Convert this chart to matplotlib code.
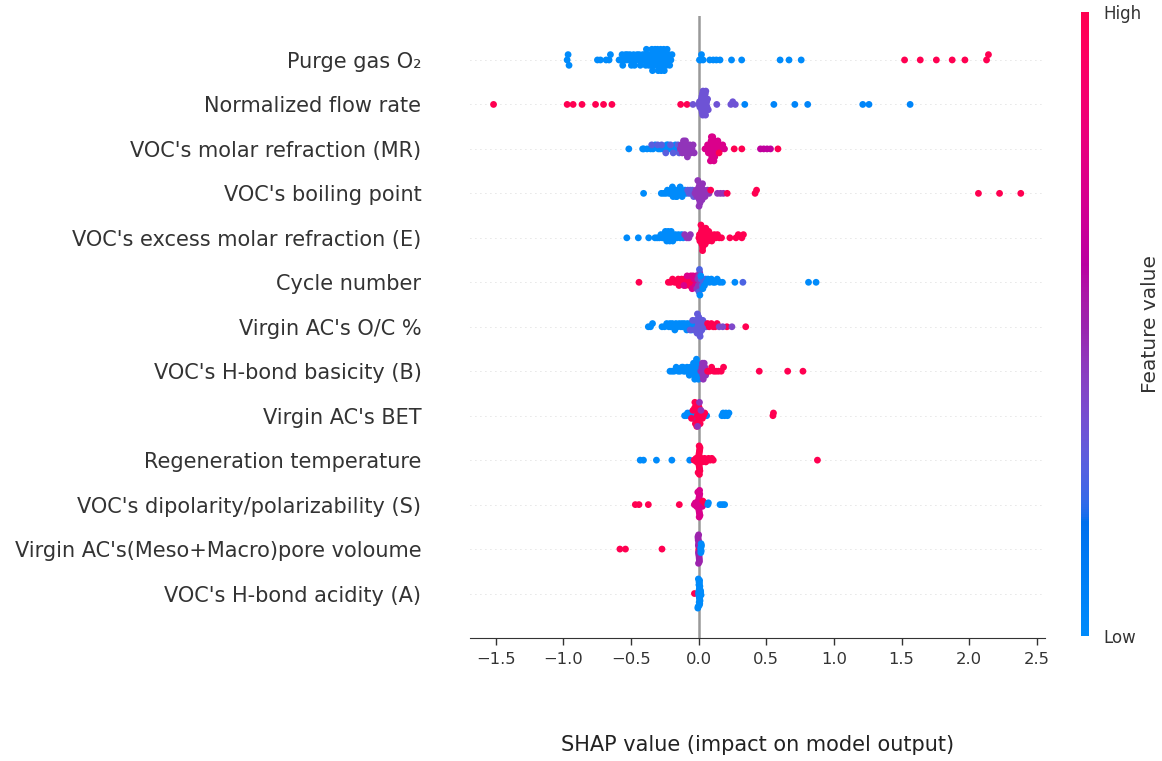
import numpy as np
import matplotlib
matplotlib.use("Agg")
import matplotlib.pyplot as plt
from matplotlib.colors import LinearSegmentedColormap
import matplotlib.cm as cm

# ---------------- data ----------------
features = [
    "Purge gas O\u2082",
    "Normalized flow rate",
    "VOC's molar refraction (MR)",
    "VOC's boiling point",
    "VOC's excess molar refraction (E)",
    "Cycle number",
    "Virgin AC's O/C %",
    "VOC's H-bond basicity (B)",
    "Virgin AC's BET",
    "Regeneration temperature",
    "VOC's dipolarity/polarizability (S)",
    "Virgin AC's(Meso+Macro)pore voloume",
    "VOC's H-bond acidity (A)",
]

xticks = [-1.5, -1.0, -0.5, 0.0, 0.5, 1.0, 1.5, 2.0, 2.5]

# each row: list of (normalized feature value, [SHAP values])
purge_o2 = [
    (0.0, [-0.972, -0.965, -0.958, -0.748, -0.726, -0.684, -0.662, -0.652,
           -0.588, -0.575, -0.566, -0.561, -0.548, -0.541, -0.532, -0.527, -0.514, -0.508,
           -0.497, -0.486, -0.481, -0.474, -0.463, -0.455, -0.447, -0.439, -0.431, -0.424,
           -0.413, -0.407, -0.398, -0.391, -0.386, -0.379, -0.372, -0.368, -0.361, -0.357,
           -0.352, -0.346, -0.341, -0.336, -0.331, -0.327, -0.322, -0.318, -0.313, -0.309,
           -0.304, -0.299, -0.295, -0.291, -0.286, -0.281, -0.277, -0.272, -0.268, -0.263,
           -0.258, -0.254, -0.249, -0.244, -0.239, -0.233, -0.228, -0.221, -0.214, -0.205,
           -0.197, 0.006, 0.014, 0.021, 0.033, 0.082, 0.108, 0.131, 0.158, 0.243, 0.318,
           0.602, 0.668, 0.758]),
    (1.0, [1.522, 1.638, 1.757, 1.874, 1.968, 2.128, 2.142]),
]

flow_rate = [
    (1.0, [-1.516, -0.972, -0.928, -0.862, -0.762, -0.703, -0.641, -0.133, -0.086]),
    (0.33, [-0.042, 0.002, 0.006, 0.009, 0.013, 0.016, 0.018, 0.020, 0.022, 0.024, 0.026,
            0.028, 0.030, 0.032, 0.035, 0.037, 0.039, 0.041, 0.043, 0.045, 0.047, 0.049,
            0.051, 0.053, 0.056, 0.059, 0.062, 0.066, 0.071, 0.134, 0.238, 0.252, 0.271]),
    (0.04, [0.341, 0.556, 0.711, 0.806, 1.213, 1.259, 1.563]),
]

voc_mr = [
    (0.0, [-0.516, -0.414, -0.406, -0.381, -0.355, -0.337, -0.321, -0.298, -0.284, -0.266,
           -0.251, -0.236, -0.218, -0.201, -0.181, -0.164, -0.172, -0.226]),
    (0.28, [-0.347, -0.303, -0.274, -0.243, -0.208, -0.188, -0.153, -0.144]),
    (0.45, [-0.136, -0.129, -0.121, -0.115, -0.107, -0.101, -0.094, -0.088, -0.081, -0.074,
            -0.066, -0.058, -0.049, -0.041, -0.033, -0.112, -0.097, -0.083]),
    (0.72, [0.047, 0.058, 0.066, 0.072, 0.078, 0.083, 0.088, 0.092, 0.097, 0.101, 0.106,
            0.110, 0.115, 0.119, 0.124, 0.129, 0.135, 0.142, 0.149, 0.157, 0.166, 0.178,
            0.191, 0.094, 0.104, 0.113, 0.087]),
    (1.0, [0.151, 0.263, 0.319, 0.586]),
    (0.62, [0.457, 0.481, 0.506, 0.531]),
]

voc_bp = [
    (0.0, [-0.407, -0.276, -0.259, -0.242, -0.231, -0.219, -0.208, -0.199, -0.189, -0.181,
           -0.173, -0.166, -0.158, -0.149, -0.141, -0.131, -0.122, -0.112, -0.101, -0.092,
           -0.194, -0.162, -0.137]),
    (0.3, [-0.081, -0.071, -0.062, -0.054, -0.046, -0.037]),
    (0.45, [-0.027, -0.019, -0.013, -0.008, -0.004, -0.001, 0.002, 0.005, 0.007, 0.010,
            0.012, 0.015, 0.018, 0.021, 0.025, 0.029, 0.034, 0.040, 0.047, 0.056, 0.066,
            0.077, 0.139, 0.161, 0.183, -0.006, 0.003]),
    (1.0, [0.089, 0.211, 0.417, 0.428, 2.068, 2.224, 2.381]),
]

voc_e = [
    (0.0, [-0.531, -0.446, -0.369, -0.323, -0.307, -0.291, -0.279, -0.268, -0.259, -0.251,
           -0.243, -0.236, -0.228, -0.221, -0.214, -0.207, -0.199, -0.191, -0.182, -0.172,
           -0.161, -0.149, -0.137, -0.125, -0.114, -0.246, -0.225, -0.203]),
    (0.45, [-0.103, -0.087, -0.072, -0.061]),
    (1.0, [0.002, 0.006, 0.009, 0.012, 0.015, 0.018, 0.021, 0.024, 0.027, 0.030, 0.033,
           0.036, 0.040, 0.044, 0.048, 0.053, 0.058, 0.063, 0.069, 0.075, 0.082, 0.089,
           0.097, 0.106, 0.116, 0.127, 0.139, 0.153, 0.169, 0.231, 0.276, 0.293, 0.319,
           0.331, 0.017, 0.029]),
]

cycle_number = [
    (1.0, [-0.441, -0.224, -0.207, -0.193, -0.178, -0.164, -0.151, -0.139, -0.126, -0.114,
           -0.103, -0.092, -0.081, -0.071, -0.062, -0.053, -0.044, -0.036, -0.028, -0.145,
           -0.098, -0.067]),
    (0.72, [-0.109, -0.085, -0.058, -0.041, -0.032, -0.024, -0.017, -0.011, -0.048]),
    (0.45, [-0.006, -0.002, 0.001, 0.004, 0.008, 0.012, -0.014]),
    (0.25, [0.003, 0.006, 0.018, 0.026, 0.035, 0.052, 0.327]),
    (0.0, [0.016, 0.031, 0.043, 0.058, 0.069, 0.081, 0.094, 0.108, 0.121, 0.137, 0.156,
           0.176, 0.268, 0.812, 0.868, 0.009]),
]

ac_oc = [
    (0.0, [-0.372, -0.356, -0.341, -0.271, -0.252, -0.236, -0.221, -0.207, -0.194, -0.181,
           -0.168, -0.156, -0.144, -0.132, -0.119, -0.106, -0.094, -0.083, -0.072, -0.061,
           -0.049, -0.037, -0.026, -0.015, -0.212, -0.176, -0.124, -0.088, -0.052]),
    (0.3, [-0.063, -0.044, -0.031, -0.021, -0.012, -0.006, -0.002, 0.002, 0.005, 0.009,
           0.013, 0.018, 0.024, 0.031, 0.039, 0.048, 0.057, 0.001, 0.011, -0.009]),
    (1.0, [0.066, 0.078, 0.094, 0.108, 0.122, 0.136, 0.209, 0.348]),
    (0.38, [0.152, 0.178, 0.246]),
]

voc_b = [
    (0.0, [-0.212, -0.196, -0.181, -0.166, -0.151, -0.137, -0.124, -0.111, -0.098, -0.086,
           -0.074, -0.063, -0.052, -0.042, -0.033, -0.025, -0.018, -0.011, -0.005, 0.001,
           -0.038, -0.022, -0.014, -0.008, -0.029, -0.016, -0.002, -0.116, -0.069]),
    (0.45, [0.016, 0.024, 0.031, 0.038, 0.045, 0.052, 0.028, 0.041, 0.034]),
    (1.0, [0.066, 0.081, 0.096, 0.112, 0.128, 0.146, 0.167, 0.184, 0.448, 0.658, 0.771]),
]

ac_bet = [
    (0.0, [-0.104, -0.094, -0.082, -0.071, -0.063, -0.048, -0.036, -0.026, -0.019, -0.012,
           0.059, 0.172, 0.181, 0.192, 0.201, 0.213, 0.224, -0.031, -0.021]),
    (1.0, [-0.053, -0.042, -0.029, -0.024, -0.017, -0.010, -0.004, 0.002, 0.008, 0.014,
           0.021, 0.028, 0.036, 0.045, -0.014, -0.007, 0.004, 0.011, -0.028, -0.002,
           0.549, 0.553]),
    (0.45, [-0.008, 0.006, 0.017]),
]

regen_temp = [
    (0.0, [-0.432, -0.408, -0.312, -0.198, -0.066]),
    (1.0, [-0.034, -0.027, -0.019, -0.014, -0.008, -0.005, -0.002, 0.000, 0.001, 0.002,
           0.003, 0.004, 0.005, 0.006, 0.007, 0.008, 0.009, 0.010, -0.004, 0.004, 0.006,
           0.015, 0.021, 0.027, 0.036, 0.044, 0.053, 0.062, 0.073, 0.085, 0.097, 0.108,
           0.878]),
]

voc_s = [
    (1.0, [-0.468, -0.441, -0.372, -0.143]),
    (0.72, [-0.032, -0.024, -0.016, -0.010, -0.007, -0.004, -0.002, 0.000, 0.001, 0.002,
            0.003, 0.004, 0.005, 0.006, 0.008, 0.010, -0.006, 0.004, 0.007, 0.014, 0.021,
            0.027, 0.036]),
    (1.0, [0.031, 0.044]),
    (0.0, [0.068, 0.158, 0.176, 0.192, 0.072]),
]

ac_pore = [
    (1.0, [-0.582, -0.541, -0.271, 0.002, 0.003, 0.001]),
    (0.5, [-0.002, -0.001, 0.000, 0.001, 0.002, 0.003, -0.003, 0.004, -0.004, 0.005,
           -0.005, 0.006, 0.000, -0.001]),
    (0.0, [0.015, 0.017, 0.019, 0.021, 0.016, 0.018]),
]

voc_a = [
    (1.0, [-0.031]),
    (0.0, [0.000, 0.001, 0.002, 0.003, 0.004, 0.005, 0.006, 0.007, 0.008, 0.009, 0.010,
           0.002, 0.004, 0.006, 0.008, 0.003, 0.005, 0.007, 0.012, 0.015, 0.018, 0.014,
           -0.004, -0.002, -0.006]),
]

rows = [purge_o2, flow_rate, voc_mr, voc_bp, voc_e, cycle_number, ac_oc, voc_b,
        ac_bet, regen_temp, voc_s, ac_pore, voc_a]


# ---------------- SHAP red_blue colormap (Lch interpolation) ----------------
def lch2rgb(l, c, h):
    a = c * np.cos(h)
    b = c * np.sin(h)
    fy = (l + 16.0) / 116.0
    fx = a / 500.0 + fy
    fz = fy - b / 200.0
    f = np.array([fx, fy, fz])
    f = np.where(f > 0.2068966, f ** 3, (f - 16.0 / 116.0) / 7.787)
    xyz = f * np.array([0.95047, 1.0, 1.08883])
    m = np.array([[3.240481, -1.537151, -0.498536],
                  [-0.969256, 1.875990, 0.041556],
                  [0.055647, -0.204041, 1.057311]])
    rgb = m @ xyz
    rgb = np.where(rgb > 0.0031308,
                   1.055 * np.power(np.clip(rgb, 0, None), 1 / 2.4) - 0.055,
                   12.92 * rgb)
    return np.clip(rgb, 0, 1)


blue_lch = [54.0, 70.0, 4.6588]
red_lch = [54.0, 90.0, 0.35470565 + 2 * np.pi]
l_mid = 40.0
nsteps = 100
l_vals = list(np.linspace(blue_lch[0], l_mid, nsteps // 2)) + \
    list(np.linspace(l_mid, red_lch[0], nsteps // 2))
c_vals = np.linspace(blue_lch[1], red_lch[1], nsteps)
h_vals = np.linspace(blue_lch[2], red_lch[2], nsteps)
cols = [lch2rgb(l, c, h) for l, c, h in zip(l_vals, c_vals, h_vals)]
red_blue = LinearSegmentedColormap.from_list("red_blue", cols)

# ---------------- figure ----------------
W, H = 1162, 761
fig = plt.figure(figsize=(W / 100, H / 100), dpi=100)
ax = fig.add_axes([470 / W, 1 - 638 / H, 575 / W, 622.5 / H])

axis_color = "#333333"
n = len(features)
row_height = 0.4
binw = 0.022

for i, groups in enumerate(rows):
    pos = n - 1 - i
    ax.axhline(y=pos, color="#cccccc", lw=0.6, dashes=(1, 5), zorder=-1)
    shaps = np.concatenate([np.array(g[1], dtype=float) for g in groups])
    cvals = np.concatenate([np.full(len(g[1]), g[0]) for g in groups])
    N = len(shaps)
    quant = np.round(shaps / binw)
    inds = np.argsort(quant, kind="stable")
    layer = 0
    last_bin = None
    ys = np.zeros(N)
    for ind in inds:
        if quant[ind] != last_bin:
            layer = 0
        ys[ind] = np.ceil(layer / 2) * ((layer % 2) * 2 - 1)
        layer += 1
        last_bin = quant[ind]
    ys *= 0.9 * (row_height / np.max(ys + 1))
    ax.scatter(shaps, pos + ys, c=cvals, cmap=red_blue, vmin=0, vmax=1,
               s=24, linewidth=0, zorder=3)

ax.axvline(x=0, color="#999999", lw=1.8, zorder=-1)

ax.set_xlim(-1.69, 2.56)
ax.set_ylim(-1, n)
ax.set_yticks(range(n))
ax.set_yticklabels(features[::-1], fontsize=15)
ax.set_xticks(xticks)
ax.set_xticklabels(["%.1f" % t if t >= 0 else "\u2212%.1f" % abs(t) for t in xticks])
ax.xaxis.set_ticks_position("bottom")
ax.yaxis.set_ticks_position("none")
for s in ["right", "top", "left"]:
    ax.spines[s].set_visible(False)
ax.spines["bottom"].set_color(axis_color)
ax.tick_params(color=axis_color, labelcolor=axis_color)
ax.tick_params("y", length=0, pad=35)
ax.tick_params("x", labelsize=11.8, length=5, width=1, pad=5)
ax.set_xlabel("SHAP value (impact on model output)", fontsize=15,
              color="#222222", labelpad=49)

# colorbar
cax = fig.add_axes([1081 / W, 1 - 636 / H, 8 / W, 624 / H])
m = cm.ScalarMappable(cmap=red_blue)
m.set_array([0, 1])
cb = fig.colorbar(m, cax=cax, ticks=[0, 1])
cb.set_ticklabels(["Low", "High"])
cb.ax.tick_params(labelsize=12, length=0, pad=10, labelcolor=axis_color)
cb.set_label("Feature value", size=14.5, labelpad=0, color=axis_color)
cb.outline.set_visible(False)

fig.savefig("out.png", dpi=100)
